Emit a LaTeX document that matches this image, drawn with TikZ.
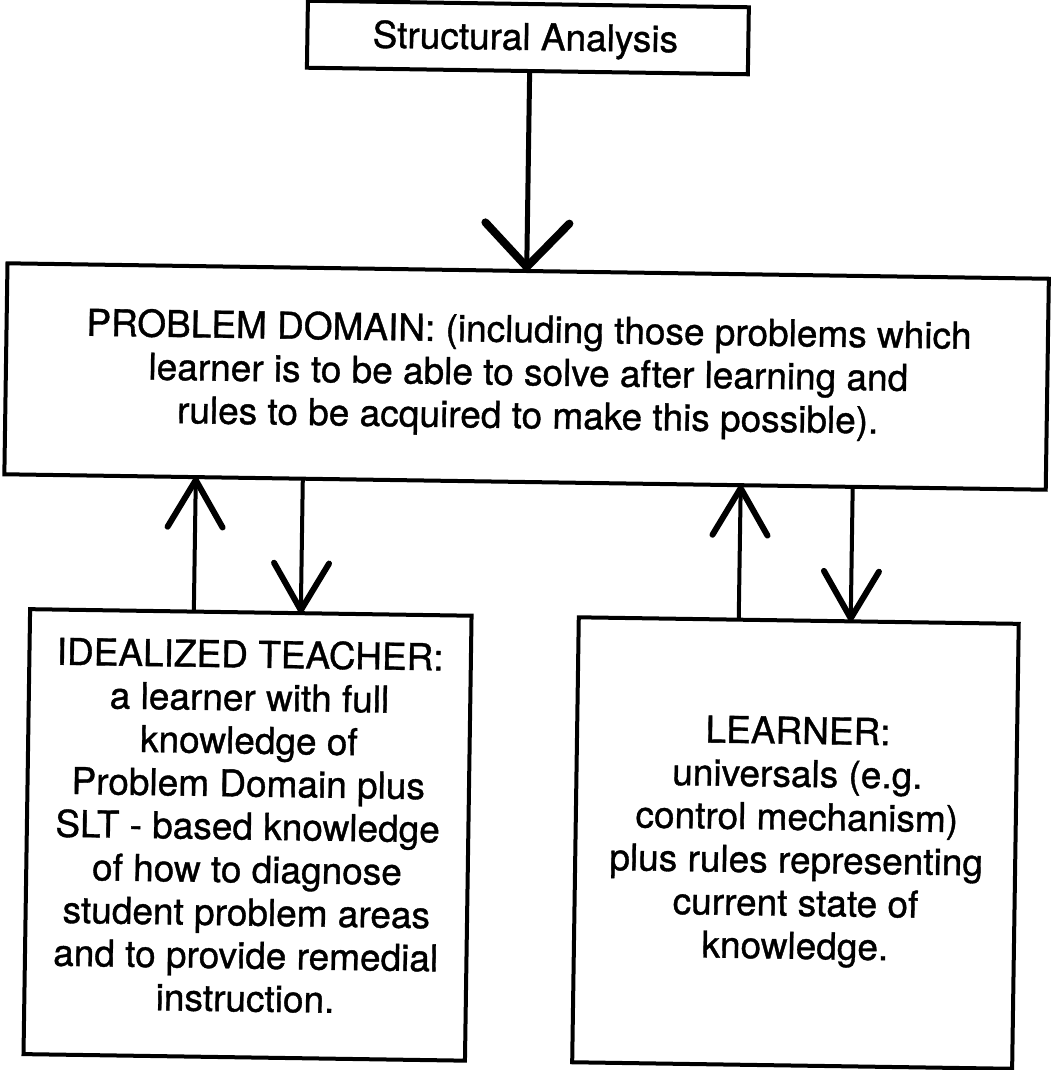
\documentclass[tikz,border=0pt]{standalone}
\usepackage{fontspec}
\setmainfont[FakeBold=1]{TeX Gyre Heros}
\usetikzlibrary{arrows.meta,calc}
\tikzset{
  frame/.style={draw, line width=4pt, inner sep=0pt, outer sep=0pt},
  boxtext/.style={inner sep=0pt, outer sep=0pt, align=center, font=\fontsize{37}{43}\selectfont},
  link/.style={line width=4pt},
  bigbarb/.style={-{Straight Barb[length=44pt, width=84pt, line width=8pt, round]}},
  barb/.style={-{Straight Barb[length=47pt, width=55pt, line width=6pt, round]}},
}
\begin{document}
\begin{tikzpicture}[x=1pt, y=1pt]
\useasboundingbox (0,0) rectangle (1051,-1070);
\fill[white] (0,0) rectangle (1051,-1070);
\begin{scope}[rotate around={-0.85:(525,-535)}, transform shape]
  % boxes
  \node[frame, minimum width=441pt, minimum height=67pt] (sa) at (520.5,-37.5) {};
  \node[boxtext, anchor=base] (satext) at (518,-50) {Structural Analysis};
  \node[frame, minimum width=1041.5pt, minimum height=211pt] (pd) at (524.25,-376.5) {};
  \node[boxtext, anchor=north] (pdtext) at (526,-314.6)
    {PROBLEM DOMAIN: (including those problems which\\
     learner is to be able to solve after learning and\\
     rules to be acquired to make this possible).};
  \node[frame, minimum width=441.5pt, minimum height=445pt] (teacher) at (252,-839) {};
  \node[boxtext, anchor=north] (teachertext) at (252,-644)
    {IDEALIZED TEACHER:\\
     a learner with full\\
     knowledge of\\
     Problem Domain plus\\
     SLT - based knowledge\\
     of how to diagnose\\
     student problem areas\\
     and to provide remedial\\
     instruction.};
  \node[frame, minimum width=440pt, minimum height=445pt] (learner) at (800,-839) {};
  \node[boxtext, anchor=north] (learnertext) at (801,-712.8)
    {LEARNER:\\
     universals (e.g.\\
     control mechanism)\\
     plus rules representing\\
     current state of\\
     knowledge.};
  % connector positions
  \coordinate (a0) at (522.8,-170);
  \coordinate (a1) at (195,-545);
  \coordinate (a2) at (302,-545);
  \coordinate (a3) at (740,-545);
  \coordinate (a4) at (852,-545);
  % connectors
  \draw[link, line width=5pt, bigbarb]
    ($(sa.south west)!(a0)!(sa.south east)$) -- ($(pd.north west)!(a0)!(pd.north east)$);
  \draw[link, barb]
    ($(teacher.north west)!(a1)!(teacher.north east)$) -- ($(pd.south west)!(a1)!(pd.south east)$);
  \draw[link, barb]
    ($(pd.south west)!(a2)!(pd.south east)$) -- ($(teacher.north west)!(a2)!(teacher.north east)$);
  \draw[link, barb]
    ($(learner.north west)!(a3)!(learner.north east)$) -- ($(pd.south west)!(a3)!(pd.south east)$);
  \draw[link, barb]
    ($(pd.south west)!(a4)!(pd.south east)$) -- ($(learner.north west)!(a4)!(learner.north east)$);
\end{scope}
\end{tikzpicture}
\end{document}
